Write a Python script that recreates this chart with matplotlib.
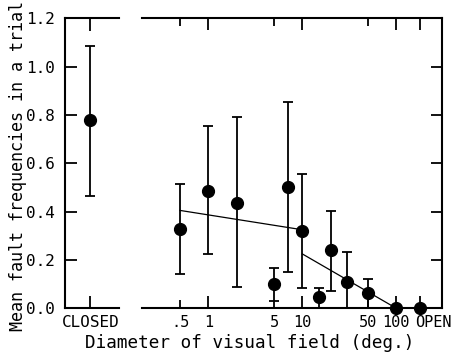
import matplotlib
matplotlib.use('Agg')
import matplotlib.pyplot as plt
from matplotlib.transforms import ScaledTranslation
import numpy as np

# closed condition
closed_mean = 0.78
closed_lo = 0.465
closed_hi = 1.087

# visual field diameter (deg.); "OPEN" is drawn at 180
diam = [0.5, 1, 2, 5, 7, 10, 15, 20, 30, 50, 100, 180]
means = [0.33, 0.485, 0.435, 0.10, 0.50, 0.32, 0.045, 0.24, 0.11, 0.062, 0.0, 0.0]
upper = [0.515, 0.755, 0.79, 0.167, 0.852, 0.554, 0.083, 0.402, 0.232, 0.122, 0.0, 0.0]
lower = [0.141, 0.226, 0.09, 0.031, 0.149, 0.083, 0.0, 0.073, 0.0, 0.0, 0.0, 0.0]

# fitted lines
fit1_x = [0.5, 10]
fit1_y = [0.405, 0.325]
fit2_x = [10, 100]
fit2_y = [0.225, 0.0]

major_ticks = [1, 10, 100, 180]
major_labels = ['1', '10', '100', 'OPEN']
minor_ticks = [0.5, 5, 50]
minor_labels = ['.5', '5', '50']
y_ticks = [0.0, 0.2, 0.4, 0.6, 0.8, 1.0, 1.2]

plt.rcParams['font.family'] = 'DejaVu Sans Mono'
plt.rcParams['axes.linewidth'] = 1.5

fig = plt.figure(figsize=(4.55, 3.6), dpi=100)
ax1 = fig.add_axes([0.1429, 0.1436, 0.1187, 0.8056])
ax2 = fig.add_axes([0.3121, 0.1436, 0.6593, 0.8056])

ebkw = dict(fmt='o', color='black', markersize=8.5, capsize=3.6,
            elinewidth=1.3, capthick=1.3)

# left panel: CLOSED
ax1.errorbar([0.47], [closed_mean],
             yerr=[[closed_mean - closed_lo], [closed_hi - closed_mean]], **ebkw)
ax1.set_xlim(0, 1)
ax1.set_ylim(0, 1.2)
ax1.spines['right'].set_visible(False)
ax1.set_xticks([0.47], labels=['CLOSED'])
ax1.set_yticks(y_ticks, labels=['%.1f' % v for v in y_ticks])
ax1.tick_params(axis='x', direction='in', length=9, width=1.3, top=True,
                labelsize=11.5, pad=5)
ax1.tick_params(axis='y', direction='in', length=8.5, width=1.3,
                labelsize=11.5, pad=7)

# right panel: diameters
means_a = np.array(means)
yerr = [means_a - np.array(lower), np.array(upper) - means_a]
_, caps, bars = ax2.errorbar(diam, means, yerr=yerr, **ebkw)
for c in caps:
    c.set_clip_on(False)
ax2.lines[0].set_clip_on(False)
ax2.plot(fit1_x, fit1_y, color='black', lw=0.9)
ax2.plot(fit2_x, fit2_y, color='black', lw=0.9)
ax2.set_xscale('log')
ax2.set_xlim(0.197, 306)
ax2.set_ylim(0, 1.2)
ax2.spines['left'].set_visible(False)
ax2.set_xticks(major_ticks, labels=major_labels)
ax2.set_xticks(minor_ticks, labels=minor_labels, minor=True)
ax2.tick_params(axis='x', which='major', direction='in', length=8.6, width=1.3,
                top=True, labelsize=11, pad=5)
ax2.tick_params(axis='x', which='minor', direction='in', length=5.5, width=1.3,
                top=True, labelsize=11, pad=5)
shift = ScaledTranslation(-5 / 100, 0, fig.dpi_scale_trans)
for lbl in ax2.get_xticklabels():
    if lbl.get_text() == 'OPEN':
        lbl.set_horizontalalignment('left')
        lbl.set_transform(lbl.get_transform() + shift)
ax2.set_yticks(y_ticks)
ax2.yaxis.set_minor_locator(matplotlib.ticker.NullLocator())
ax2.tick_params(axis='y', direction='in', length=8, width=1.3, left=False,
                right=True, labelleft=False)

fig.text(0.04, 0.54, 'Mean fault frequencies in a trial', rotation=90,
         ha='center', va='center', fontsize=12)
fig.text(0.549, 0.047, 'Diameter of visual field (deg.)', ha='center',
         va='center', fontsize=12.7)

fig.savefig('out.png', dpi=100)
